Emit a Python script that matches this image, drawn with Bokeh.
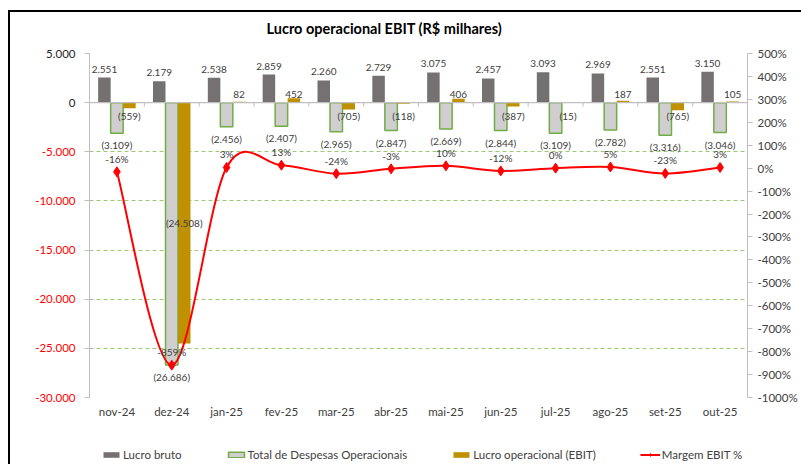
from bokeh.plotting import figure
from bokeh.layouts import row, column
from bokeh.models import (ColumnDataSource, LinearAxis, Range1d, FixedTicker, LabelSet, Plot,
                          CustomJSTickFormatter, Span, Legend, LegendItem, Title)
from bokeh.core.properties import value
from bokeh.embed import file_html
from bokeh.resources import INLINE

categories = ["nov-24", "dez-24", "jan-25", "fev-25", "mar-25", "abr-25",
              "mai-25", "jun-25", "jul-25", "ago-25", "set-25", "out-25"]
lucro_bruto = [2551, 2179, 2538, 2859, 2260, 2729, 3075, 2457, 3093, 2969, 2551, 3150]
despesas = [-3109, -26686, -2456, -2407, -2965, -2847, -2669, -2844, -3109, -2782, -3316, -3046]
ebit = [-559, -24508, 82, 452, -705, -118, 406, -387, -15, 187, -765, 105]
margem = [-16, -859, 3, 13, -24, -3, 10, -12, 0, 5, -23, 3]
left_ticks = [5000, 0, -5000, -10000, -15000, -20000, -25000, -30000]
right_ticks = [500, 400, 300, 200, 100, 0, -100, -200, -300, -400, -500, -600, -700, -800, -900, -1000]
series_names = ["Lucro bruto", "Total de Despesas Operacionais", "Lucro operacional (EBIT)", "Margem EBIT %"]

FONT = "Lato"
TXT = "#404040"
C_BRUTO = "#767171"
C_DESP = "#D0CECE"
C_DESP_LINE = "#70AD47"
C_EBIT = "#BF9000"
C_LINE = "#FF0000"
C_GRID = "#9DC878"
C_AXIS = "#BFBFBF"

TOTAL_W = 800
H1 = 441                      # chart part height
HL = 23                       # legend strip height
WL = 80                       # left label strip width
ML, MR, MT, MB = 9, 52, 53, 44
FH = H1 - MT - MB


def fmt(v):
    s = f"{abs(v):,}".replace(",", ".")
    return f"({s})" if v < 0 else s


def axfmt(v):
    s = f"{abs(v):,}".replace(",", ".")
    return "-" + s if v < 0 else s


n = len(categories)
xc = [i + 0.5 for i in range(n)]
bw = 0.228
y_lo, y_hi = min(left_ticks), max(left_ticks)

yr = Range1d(y_lo, y_hi)
p = figure(width=TOTAL_W - WL, height=H1, x_range=Range1d(0, n), y_range=yr,
           output_backend="svg", toolbar_location=None,
           min_border_left=ML, min_border_right=MR, min_border_top=MT, min_border_bottom=MB)
p.extra_y_ranges = {"pct": Range1d(min(right_ticks), max(right_ticks))}
p.outline_line_color = None

# grid
p.xgrid.visible = False
p.ygrid.ticker = FixedTicker(ticks=[t for t in left_ticks if t != 0])
p.ygrid.grid_line_color = C_GRID
p.ygrid.grid_line_dash = "4 3"
p.ygrid.grid_line_width = 1.2

# x axis
xa = p.xaxis[0]
xa.ticker = FixedTicker(ticks=xc)
xa.formatter = CustomJSTickFormatter(args=dict(cats=categories), code="return cats[Math.floor(tick)];")
xa.axis_line_color = None
xa.major_tick_line_color = None
xa.major_tick_out = 0
xa.major_tick_in = 0
xa.minor_tick_line_color = None
xa.major_label_standoff = 7
xa.major_label_text_font = FONT
xa.major_label_text_font_size = "11.5px"
xa.major_label_text_color = TXT

# left axis: line and ticks (its labels are shown in the strip at the left, with red negatives)
ya = p.yaxis[0]
ya.ticker = FixedTicker(ticks=left_ticks)
ya.formatter = CustomJSTickFormatter(code="return '.';")
ya.axis_line_color = C_AXIS
ya.major_tick_line_color = C_AXIS
ya.major_tick_out = 5
ya.major_tick_in = 0
ya.minor_tick_line_color = None
ya.major_label_standoff = 0
ya.major_label_text_font_size = "1px"
ya.major_label_text_alpha = 0

# right axis
ra = LinearAxis(y_range_name="pct", ticker=FixedTicker(ticks=right_ticks),
                formatter=CustomJSTickFormatter(code="return tick + '%';"))
ra.axis_line_color = C_AXIS
ra.major_tick_line_color = C_AXIS
ra.major_tick_out = 5
ra.major_tick_in = 0
ra.minor_tick_line_color = None
ra.major_label_standoff = 5
ra.major_label_text_font = FONT
ra.major_label_text_font_size = "11.5px"
ra.major_label_text_color = TXT
p.add_layout(ra, "right")

# bars
src = ColumnDataSource(dict(
    xb=[x - bw for x in xc], xd=xc, xe=[x + bw for x in xc],
    bruto=lucro_bruto, desp=despesas, ebit=ebit,
    tb=[fmt(v) for v in lucro_bruto], td=[fmt(v) for v in despesas],
))
BAR_B = dict(fill_color=C_BRUTO, line_color=None)
BAR_D = dict(fill_color=C_DESP, line_color=C_DESP_LINE, line_width=1.5)
BAR_E = dict(fill_color=C_EBIT, line_color=None)
p.vbar(x="xb", top="bruto", bottom=0, width=bw, source=src, **BAR_B)
p.vbar(x="xd", top="desp", bottom=0, width=bw, source=src, **BAR_D)
p.vbar(x="xe", top="ebit", bottom=0, width=bw, source=src, **BAR_E)

# zero axis line + small ticks at category boundaries
p.add_layout(Span(location=0, dimension="width", line_color=C_AXIS, line_width=1.3))
tick_len = 4 * (y_hi - y_lo) / FH
bounds = list(range(n + 1))
p.segment(x0=bounds, y0=[0] * len(bounds), x1=bounds, y1=[-tick_len] * len(bounds),
          line_color=C_AXIS, line_width=1)

# data labels
LBL = dict(text_font=value(FONT), text_font_size="10px", text_color=TXT, text_align="center")
p.add_layout(LabelSet(x="xb", y="bruto", text="tb", source=src, text_baseline="bottom", y_offset=5, **LBL))
p.add_layout(LabelSet(x="xd", y="desp", text="td", source=src, text_baseline="top", y_offset=-6, **LBL))
for cond, base, off in [(lambda v: v < -5000, "middle", 0),
                        (lambda v: -5000 <= v < 0, "top", -7),
                        (lambda v: v >= 0, "bottom", 5)]:
    idx = [i for i, v in enumerate(ebit) if cond(v)]
    s = ColumnDataSource(dict(
        x=[xc[i] + bw for i in idx],
        y=[ebit[i] / 2 if ebit[i] < -5000 else 0 for i in idx],
        text=[fmt(ebit[i]) for i in idx]))
    p.add_layout(LabelSet(x="x", y="y", text="text", source=s, text_baseline=base, y_offset=off, **LBL))


# margin line (smoothed bezier through the points)
def pt(k):
    k = min(max(k, 0), n - 1)
    return xc[k], margem[k]


bz = dict(x0=[], y0=[], x1=[], y1=[], cx0=[], cy0=[], cx1=[], cy1=[])
for i in range(n - 1):
    p0, p1, p2, p3 = pt(i - 1), pt(i), pt(i + 1), pt(i + 2)
    bz["x0"].append(p1[0]); bz["y0"].append(p1[1])
    bz["x1"].append(p2[0]); bz["y1"].append(p2[1])
    bz["cx0"].append(p1[0] + (p2[0] - p0[0]) / 6); bz["cy0"].append(p1[1] + (p2[1] - p0[1]) / 6)
    bz["cx1"].append(p2[0] - (p3[0] - p1[0]) / 6); bz["cy1"].append(p2[1] - (p3[1] - p1[1]) / 6)
LINE = dict(line_color=C_LINE, line_width=2)
MARK = dict(marker="diamond", size=10, fill_color=C_LINE, line_color=C_LINE)
p.bezier(source=ColumnDataSource(bz), x0="x0", y0="y0", x1="x1", y1="y1",
         cx0="cx0", cy0="cy0", cx1="cx1", cy1="cy1", y_range_name="pct", **LINE)
msrc = ColumnDataSource(dict(x=xc, y=margem, text=[f"{v}%" for v in margem]))
p.scatter(x="x", y="y", source=msrc, y_range_name="pct", **MARK)
p.add_layout(LabelSet(x="x", y="y", text="text", source=msrc, y_range_name="pct",
                      text_baseline="bottom", y_offset=7, **LBL))

# title
p.add_layout(Title(text="Lucro operacional EBIT (R$ milhares)", align="left", offset=177,
                   text_font=FONT, text_font_style="bold", text_font_size="14.5px",
                   text_color="#000000", standoff=34), "above")

# left strip with the left-axis tick labels (negatives in red).  When its frame can be
# kept out of the row alignment it is made 10px taller at each end (same value-per-pixel
# scale) so that the end labels are not clipped.
can_unalign = "frame_align" in Plot.properties()
pad_px = 10 if can_unalign else 0
per_px = (y_hi - y_lo) / FH
lp = figure(width=WL, height=H1, x_range=Range1d(0, 1),
            y_range=Range1d(y_lo - pad_px * per_px, y_hi + pad_px * per_px),
            output_backend="svg", toolbar_location=None, x_axis_type=None, y_axis_type=None,
            min_border_left=0, min_border_right=0,
            min_border_top=MT - pad_px, min_border_bottom=MB - pad_px)
if can_unalign:
    lp.frame_align = False
lp.outline_line_color = None
lp.grid.visible = False
lsrc = ColumnDataSource(dict(
    x=[1] * len(left_ticks), y=left_ticks, text=[axfmt(t) for t in left_ticks],
    color=["#262626" if t >= 0 else "#FF0000" for t in left_ticks]))
lp.add_layout(LabelSet(x="x", y="y", text="text", source=lsrc, x_offset=-5,
                       text_align="right", text_baseline="middle", text_color="color",
                       text_font=value(FONT), text_font_size="11.5px"))

# legend strip below the chart (legend-only renderers sit outside its visible range)
lf = figure(width=TOTAL_W, height=HL, x_range=Range1d(0, 1), y_range=Range1d(0, 1),
            output_backend="svg", toolbar_location=None, x_axis_type=None, y_axis_type=None,
            min_border_left=0, min_border_right=0, min_border_top=0, min_border_bottom=0)
lf.outline_line_color = None
lf.grid.visible = False
e = dict(x=[-5], top=[-5])
g1 = lf.vbar(x="x", top="top", width=0.1, source=ColumnDataSource(e), **BAR_B)
g2 = lf.vbar(x="x", top="top", width=0.1, source=ColumnDataSource(e), **BAR_D)
g3 = lf.vbar(x="x", top="top", width=0.1, source=ColumnDataSource(e), **BAR_E)
g4 = lf.line(x="x", y="top", source=ColumnDataSource(e), **LINE)
g5 = lf.scatter(x="x", y="top", source=ColumnDataSource(e), **MARK)
legend = Legend(items=[
    LegendItem(label=series_names[0], renderers=[g1]),
    LegendItem(label=series_names[1], renderers=[g2]),
    LegendItem(label=series_names[2], renderers=[g3]),
    LegendItem(label=series_names[3], renderers=[g4, g5]),
], orientation="horizontal", location=(101, 3), glyph_width=20, glyph_height=7,
    label_standoff=2, spacing=44, padding=0, margin=0, border_line_color=None,
    background_fill_alpha=0, label_text_font=FONT, label_text_font_size="11.5px",
    label_text_color=TXT, label_height=12)
lf.add_layout(legend)

# black frame edges (top and left) of the chart area, as in the reference
frame_css = """
:host::before { content: ""; position: absolute; left: 8px; top: 10px; width: 793px; height: 2px;
                background: #000; z-index: 100; pointer-events: none; }
:host::after  { content: ""; position: absolute; left: 8px; top: 10px; width: 2px; height: 460px;
                background: #000; z-index: 100; pointer-events: none; }
"""
layout = column(row(lp, p, spacing=0), lf, spacing=0, stylesheets=[frame_css])
open("out.html", "w").write(file_html(layout, INLINE))
